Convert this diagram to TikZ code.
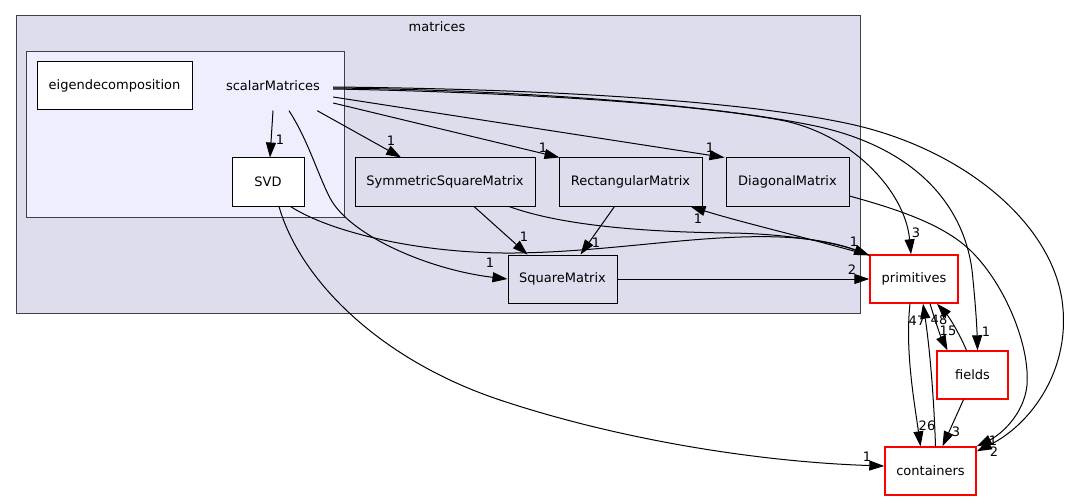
\documentclass[tikz,border=0pt]{standalone}
\usepackage{fontspec}
\setmainfont{DejaVu Sans}
\usepackage{tikz}
\usetikzlibrary{arrows.meta,positioning,calc}
\definecolor{clfill}{HTML}{DDDDEE}
\definecolor{subfill}{HTML}{EEEEFF}
\definecolor{clline}{HTML}{404048}

\begin{document}
\begin{tikzpicture}[x=1pt,y=-1pt,
  font=\fontsize{13}{15}\selectfont,
  clus/.style={rectangle,draw=clline,line width=1pt,inner sep=0pt},
  dirbox/.style={rectangle,draw=black,line width=1pt,fill=clfill,minimum height=48,inner sep=0pt},
  leaf/.style={dirbox,fill=white},
  extbox/.style={dirbox,draw=red,line width=1.4pt,fill=white},
  arr/.style={-{Triangle[length=15pt,width=10pt]},line width=1pt},
  lbl/.style={inner sep=0pt}
]
  \useasboundingbox (0,0) rectangle (1071,500);

  % clusters
  \node[clus,fill=clfill,minimum width=844,minimum height=297] (matrices) at (438,164.5) {};
  \node (mtitle) at (437,27) {matrices};
  \node[clus,fill=subfill,minimum width=318,minimum height=165] (scalarclus) at (185,134.5) {};
  \node[minimum width=120,minimum height=49,inner sep=0pt] (scalar) at (273,86) {scalarMatrices};

  % directories
  \node[leaf,minimum width=155] (eigen) at (114.5,86) {eigendecomposition};
  \node[leaf,minimum width=72] (svd) at (268,182) {SVD};
  \node[dirbox,minimum width=180] (sym) at (445,182) {SymmetricSquareMatrix};
  \node[dirbox,minimum width=143] (rect) at (630.5,182) {RectangularMatrix};
  \node[dirbox,minimum width=123] (diag) at (787.5,182) {DiagonalMatrix};
  \node[dirbox,minimum width=109] (square) at (562.5,279) {SquareMatrix};
  \node[extbox,minimum width=88] (prim) at (914,279) {primitives};
  \node[extbox,minimum width=71] (fields) at (972.5,375) {fields};
  \node[extbox,minimum width=91] (cont) at (930.5,471) {containers};

  % dependencies of scalarMatrices
  \draw[arr] (scalar.south) -- ($(svd.north)+(2,0)$) node[lbl] at (280,140) {1};
  \draw[arr] (scalar) -- (sym) node[lbl] at (391,141) {1};
  \draw[arr] ($(scalar.east)+(0,17)$) -- ($(rect.north west)+(1,0)$) node[lbl] at (543,148) {1};
  \draw[arr] ($(scalar.east)+(0,11)$) -- ($(diag.north west)+(-1,0)$) node[lbl] at (710,148) {1};
  \draw[arr] ($(scalar.south)+(16,0)$) .. controls (308,140) and (318,175) .. (330,198)
    .. controls (350,236) and (430,270) .. (square.west) node[lbl] at (490,263) {1};
  \draw[arr] ($(scalar.east)+(0,3)$) .. controls (500,92) and (680,102) .. (780,120)
    .. controls (850,133) and (905,190) .. ($(prim.north)+(-3,0)$) node[lbl] at (916,233) {3};
  \draw[arr] ($(scalar.east)+(0,2)$) .. controls (520,90) and (720,105) .. (820,127)
    .. controls (920,150) and (968,210) .. (973,280)
    .. controls (976,310) and (977,330) .. ($(fields.north)+(5,0)$) node[lbl] at (986,332) {1};
  \draw[arr] ($(scalar.east)+(0,1)$) .. controls (540,89) and (740,100) .. (850,124)
    .. controls (960,148) and (1050,220) .. (1062,300)
    .. controls (1072,370) and (1030,425) .. ($(cont.north east)+(0,5)$) node[lbl] at (994,452) {2};

  % other dependencies
  \draw[arr] ($(svd.south east)+(-14,0)$) .. controls (330,232) and (420,254) .. (515,253)
    .. controls (610,252) and (700,234) .. (780,237)
    .. controls (830,239) and (855,250) .. ($(prim.north west)+(0,1)$) node[lbl] at (854,242) {1};
  \draw[arr] ($(sym.south)+(64,0)$) .. controls (560,225) and (640,232) .. (730,233)
    .. controls (800,234) and (845,246) .. ($(prim.north west)+(0,1)$);
  \draw[arr] ($(prim.north west)+(0,1)$) .. controls (800,236) and (740,222) .. ($(rect.south east)+(-12,0)$) node[lbl] at (698,219) {1};
  \draw[arr] ($(sym.south)+(29,0)$) -- ($(square.north)+(-35,0)$) node[lbl] at (524,237) {1};
  \draw[arr] ($(rect.south)+(-16,0)$) -- ($(square.north)+(18,0)$) node[lbl] at (596,243) {1};
  \draw[arr] (square.east) -- (prim.west) node[lbl] at (852,270) {2};
  \draw[arr] ($(diag.east)+(0,14)$) .. controls (900,210) and (945,225) .. (972,252)
    .. controls (1005,285) and (1030,345) .. (1027,385)
    .. controls (1024,415) and (1000,435) .. (cont.north east) node[lbl] at (993,441) {1};
  \draw[arr] ($(svd.south)+(11,0)$) .. controls (300,280) and (380,360) .. (500,400)
    .. controls (620,440) and (760,462) .. ($(cont.west)+(0,-5)$) node[lbl] at (867,457) {1};

  % between the outside directories
  \draw[arr] ($(prim.south)+(-4,0)$) .. controls (905,350) and (914,400) .. ($(cont.north)+(-10,0)$) node[lbl] at (927,426) {26};
  \draw[arr] ($(cont.north)+(5,0)$) .. controls (934,400) and (930,350) .. ($(prim.south)+(9,0)$) node[lbl] at (917,321) {47};
  \draw[arr] ($(prim.south)+(16,0)$) .. controls (935,320) and (940,335) .. ($(fields.north)+(-25,0)$) node[lbl] at (948,331) {15};
  \draw[arr] ($(fields.north)+(-6,0)$) .. controls (960,335) and (950,318) .. ($(prim.south)+(23,0)$) node[lbl] at (939,320) {48};
  \draw[arr] ($(fields.south)+(-9,0)$) -- ($(cont.north)+(12,0)$) node[lbl] at (956,432) {3};
\end{tikzpicture}
\end{document}
